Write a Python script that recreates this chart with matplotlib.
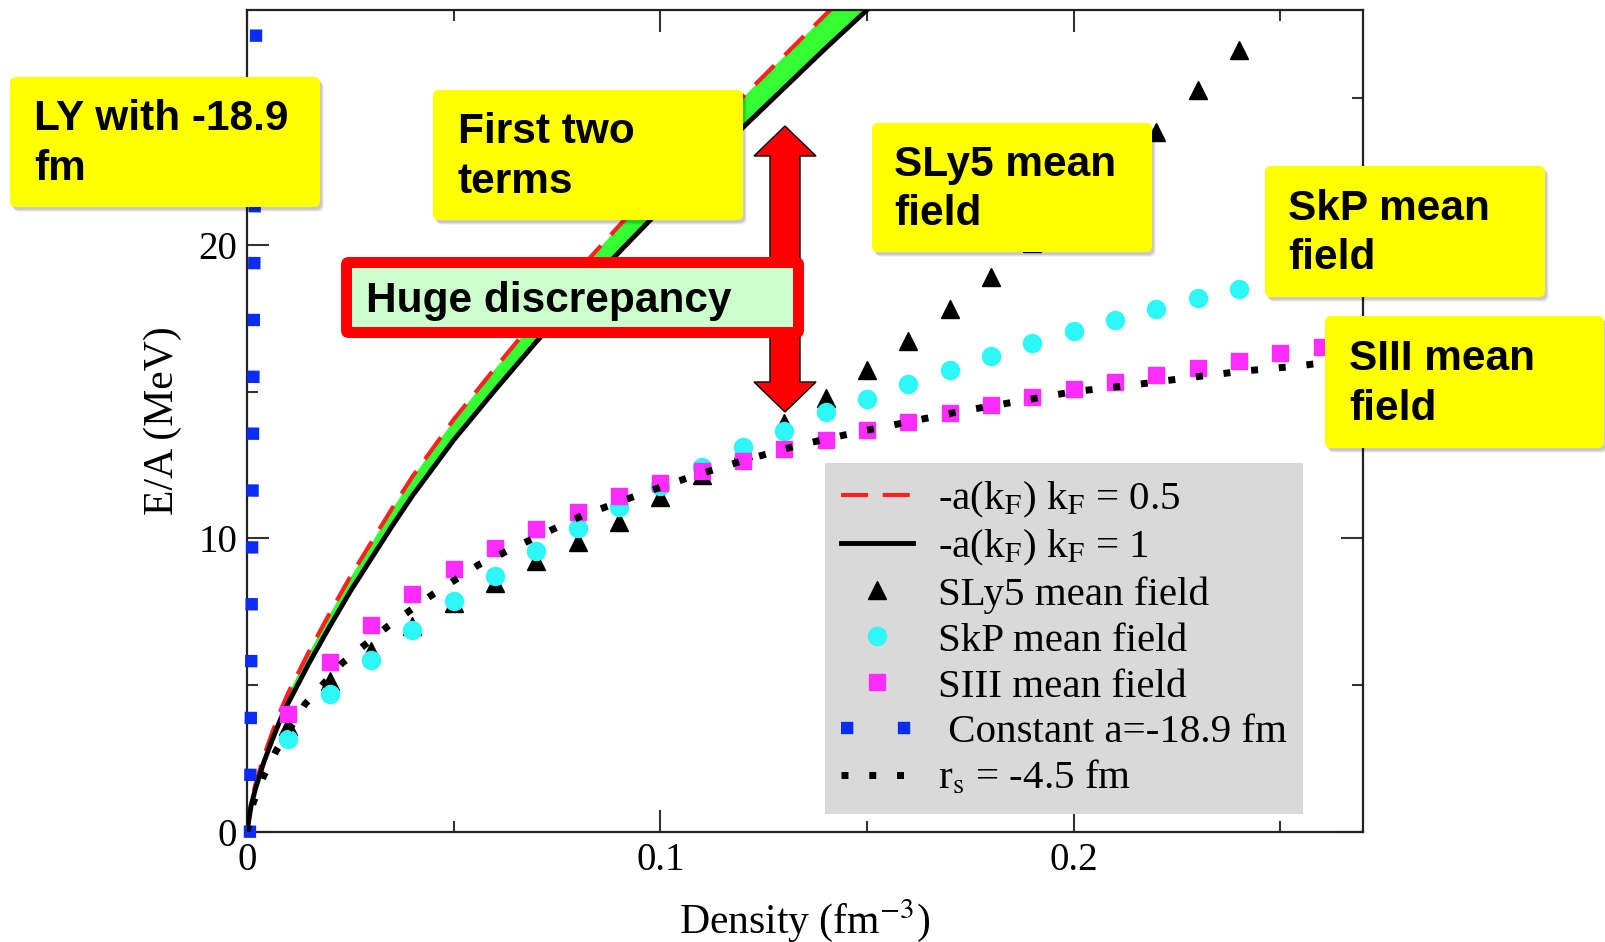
import numpy as np
import matplotlib
matplotlib.use("Agg")
import matplotlib.pyplot as plt
from matplotlib.patches import FancyBboxPatch, Polygon

plt.rcParams['font.family'] = 'Liberation Serif'
plt.rcParams['mathtext.fontset'] = 'stix'

# ---- data ----
# mean field points, density 0.01 ... 0.26 fm^-3
dens_sly5 = [0.01, 0.02, 0.03, 0.04, 0.05, 0.06, 0.07, 0.08, 0.09, 0.10, 0.11, 0.12,
             0.13, 0.14, 0.15, 0.16, 0.17, 0.18, 0.19, 0.20, 0.21, 0.22, 0.23, 0.24]
ea_sly5 = [3.61, 5.15, 6.17, 7.02, 7.8, 8.48, 9.24, 9.89, 10.57, 11.4, 12.16, 13.0,
           13.92, 14.77, 15.74, 16.73, 17.81, 18.9, 20.05, 21.3, 22.55, 23.84, 25.27, 26.63]

dens_mf = [0.01, 0.02, 0.03, 0.04, 0.05, 0.06, 0.07, 0.08, 0.09, 0.10, 0.11, 0.12, 0.13,
           0.14, 0.15, 0.16, 0.17, 0.18, 0.19, 0.20, 0.21, 0.22, 0.23, 0.24, 0.25, 0.26]
ea_skp = [3.18, 4.69, 5.85, 6.89, 7.88, 8.73, 9.56, 10.35, 11.06, 11.8, 12.45, 13.1, 13.67,
          14.3, 14.75, 15.26, 15.74, 16.21, 16.65, 17.06, 17.44, 17.81, 18.19, 18.49, 18.8, 19.1]
ea_siii = [4.01, 5.8, 7.05, 8.1, 8.95, 9.66, 10.32, 10.89, 11.43, 11.89, 12.31, 12.65, 13.05,
           13.36, 13.69, 13.97, 14.27, 14.54, 14.82, 15.08, 15.33, 15.57, 15.81, 16.04, 16.3, 16.52]

# -a(kF) kF curves
dens_kf = [0, 0.001, 0.002, 0.004, 0.006, 0.008, 0.010, 0.015, 0.020, 0.025, 0.030, 0.035,
           0.040, 0.050, 0.060, 0.070, 0.080, 0.090, 0.100, 0.110, 0.120, 0.130, 0.140, 0.150]
ea_kf1 = [0, 0.9, 1.45, 2.35, 3.1, 3.8, 4.4, 5.75, 7.0, 8.2, 9.3, 10.4,
          11.45, 13.35, 15.05, 16.7, 18.25, 19.75, 21.2, 22.6, 24.0, 25.35, 26.7, 28.0]
ea_kf05 = [0, 1.0, 1.6, 2.55, 3.35, 4.1, 4.75, 6.15, 7.45, 8.7, 9.85, 11.0,
           12.1, 14.05, 15.8, 17.5, 19.1, 20.65, 22.15, 23.6, 25.05, 26.45, 27.85, 29.2]

# r_s = -4.5 fm
dens_rs = [0, 0.0015, 0.004, 0.007, 0.014, 0.023, 0.034, 0.045, 0.056, 0.069, 0.081, 0.094, 0.107,
           0.120, 0.133, 0.147, 0.160, 0.173, 0.187, 0.200, 0.214, 0.227, 0.241, 0.254, 0.270]
ea_rs = [0, 1.0, 1.9, 2.75, 4.35, 5.75, 7.0, 8.1, 9.1, 9.98, 10.77, 11.45, 12.08,
         12.65, 13.16, 13.6, 13.97, 14.34, 14.68, 15.0, 15.22, 15.46, 15.7, 15.87, 16.15]

# constant a = -18.9 fm (nearly vertical at tiny density)
dens_const = [0.0007, 0.0022]
ea_const = [-0.2, 27.4]

xticks = [0, 0.1, 0.2]
xticklabels = ['0', '0.1', '0.2']
yticks = [0, 10, 20]
yticklabels = ['0', '10', '20']

W, H = 1606, 942
fig = plt.figure(figsize=(W / 100, H / 100), dpi=100)
ax = fig.add_axes([247 / W, 1 - 832 / H, 1116 / W, 822 / H])

ax.fill_between(dens_kf, ea_kf1, ea_kf05, color='#33ff33', lw=0, zorder=1)
ax.plot(dens_kf, ea_kf05, color='#ff2020', lw=3, dashes=(6.5, 3.5), zorder=2,
        label=r'-a(k$_\mathrm{F}$) k$_\mathrm{F}$ = 0.5')
ax.plot(dens_kf, ea_kf1, color='k', lw=3.5, zorder=3,
        label=r'-a(k$_\mathrm{F}$) k$_\mathrm{F}$ = 1')
ax.plot(dens_sly5, ea_sly5, '^', color='k', ms=13, ls='none', zorder=4, label='SLy5 mean field')
ax.plot(dens_mf, ea_skp, 'o', color='#2ef7f7', ms=13, ls='none', zorder=5, label='SkP mean field')
ax.plot(dens_mf, ea_siii, 's', color='#ff2cff', ms=11, ls='none', zorder=6, label='SIII mean field')
ax.plot(dens_const, ea_const, color='#0a2cf5', lw=8.9, dashes=(1, 3.6), zorder=7,
        clip_on=False, label=' Constant a=-18.9 fm')
ax.plot(dens_rs, ea_rs, color='k', lw=5, dashes=(1, 3), zorder=8, label=r'r$_\mathrm{s}$ = -4.5 fm')

ax.set_xlim(0, 0.27)
ax.set_ylim(0, 28)
ax.set_xticks(xticks)
ax.set_xticklabels(xticklabels)
ax.set_xticks([0.05, 0.15, 0.25], minor=True)
ax.set_yticks(yticks)
ax.set_yticklabels(yticklabels)
ax.set_yticks([5, 15, 25], minor=True)
ax.tick_params(which='both', direction='in', top=True, right=True, labelsize=28, width=1.5,
               color='#333333', pad=7)
ax.tick_params(which='major', length=16)
ax.tick_params(which='minor', length=8)
for sp in ax.spines.values():
    sp.set_linewidth(1.6)
    sp.set_color('#222222')

ax.set_xlabel('Density (fm$^{-3}$)', fontsize=30, labelpad=13)
ax.set_ylabel('E/A (MeV)', fontsize=30, labelpad=12)

leg = ax.legend(loc='upper left', bbox_to_anchor=(825 / W, 1 - 463 / H),
                bbox_transform=fig.transFigure, fontsize=29.5, frameon=True, fancybox=False,
                handlelength=1.75, handletextpad=0.6, labelspacing=0.2, borderpad=0.4,
                borderaxespad=0, numpoints=1)
leg.get_frame().set_facecolor('#d9d9d9')
leg.get_frame().set_edgecolor('none')
leg.get_frame().set_alpha(1)

# ---- overlay for the slide annotations (pixel coordinates) ----
ov = fig.add_axes([0, 0, 1, 1], zorder=5)
ov.set_xlim(0, W)
ov.set_ylim(H, 0)
ov.axis('off')
ov.patch.set_visible(False)


def note(x0, y0, x1, y1, txt, tx):
    for k, a in enumerate([0.10, 0.07, 0.05]):
        ov.add_patch(FancyBboxPatch((x0 + 2 + k, y0 + 3 + k), x1 - x0, y1 - y0,
                                    boxstyle='round,pad=0,rounding_size=6',
                                    fc='k', ec='none', alpha=a))
    ov.add_patch(FancyBboxPatch((x0, y0), x1 - x0, y1 - y0,
                                boxstyle='round,pad=0,rounding_size=6',
                                fc='#ffff00', ec='none'))
    ov.text(tx, (y0 + y1) / 2 + 2, txt, family='Liberation Sans', weight='bold', fontsize=30.5,
            va='center', ha='left', linespacing=1.3)


note(10, 77, 320, 207, 'LY with -18.9\nfm', 34)
note(433, 90, 743, 220, 'First two\nterms', 458)
note(872, 123, 1152, 252, 'SLy5 mean\nfield', 894)
note(1265, 166, 1545, 297, 'SkP mean\nfield', 1288)
note(1325, 316, 1604, 448, 'SIII mean\nfield', 1349)

# red double arrow
arrow = [(785, 126), (816, 156), (800, 156), (800, 382), (816, 382), (785, 412),
         (754, 382), (770, 382), (770, 156), (754, 156)]
ov.add_patch(Polygon(arrow, closed=True, fc='#ff0000', ec='k', lw=1))

# "Huge discrepancy" box
ov.add_patch(FancyBboxPatch((341, 257), 463, 81, boxstyle='round,pad=0,rounding_size=8',
                            fc='#ff0000', ec='none'))
ov.add_patch(FancyBboxPatch((352, 268), 441, 59, boxstyle='square,pad=0',
                            fc='#ccffcc', ec='none'))
ov.text(366, 301, 'Huge discrepancy', family='Liberation Sans', weight='bold', fontsize=30.5,
        va='center', ha='left')

fig.savefig('out.png', dpi=100)
